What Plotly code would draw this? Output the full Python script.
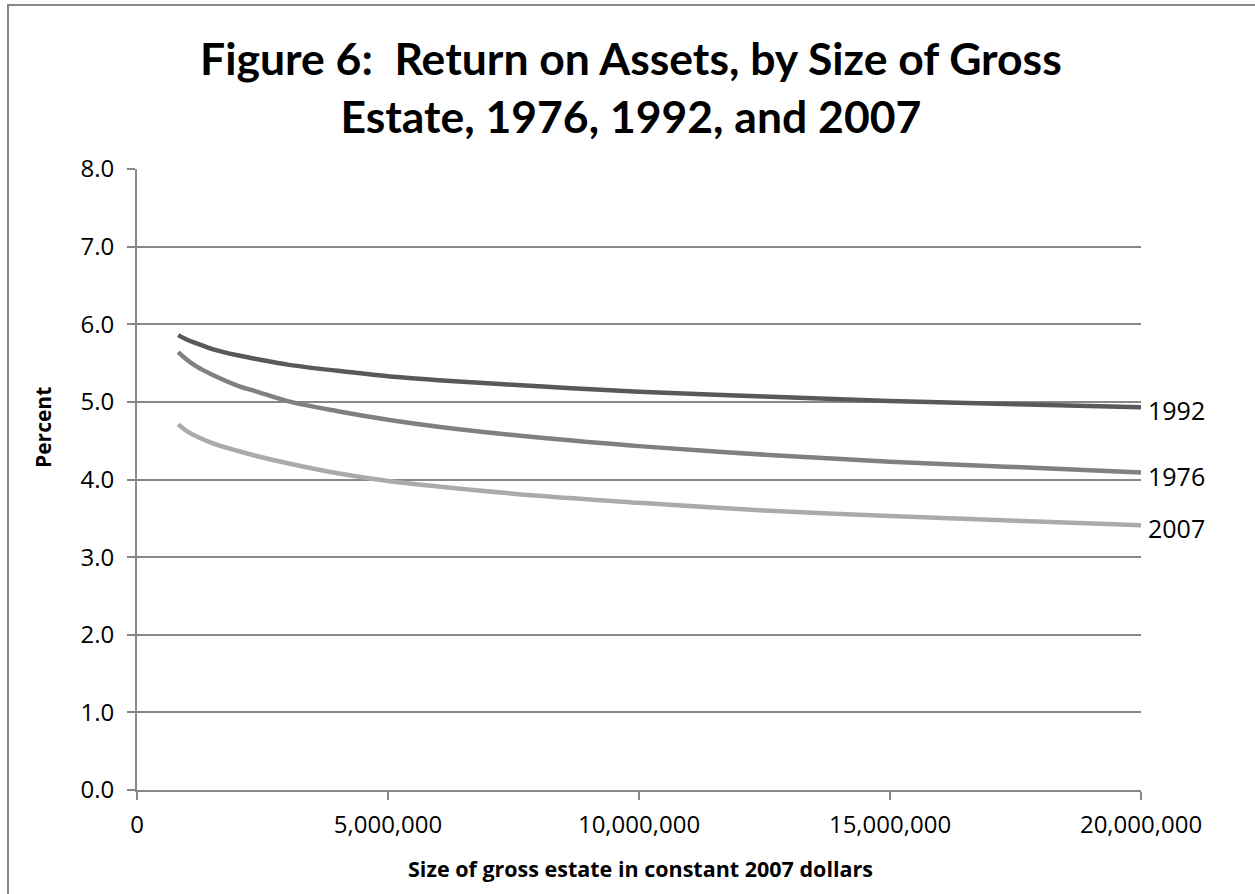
import plotly.graph_objects as go

# Data
estate_size = [820000, 1000000, 1200000, 1500000, 2000000, 2400000, 3000000, 4000000,
               5000000, 6000000, 8000000, 10000000, 12500000, 15000000, 17500000, 20000000]
roa_1992 = [5.86, 5.80, 5.75, 5.68, 5.60, 5.55, 5.48, 5.40, 5.33, 5.28, 5.20, 5.13,
            5.07, 5.01, 4.97, 4.93]
roa_1976 = [5.64, 5.54, 5.45, 5.35, 5.21, 5.13, 5.01, 4.88, 4.77, 4.68, 4.54, 4.43,
            4.32, 4.23, 4.16, 4.09]
roa_2007 = [4.71, 4.62, 4.55, 4.47, 4.37, 4.30, 4.21, 4.08, 3.98, 3.91, 3.79, 3.70,
            3.60, 3.53, 3.47, 3.41]
series_names = ["1992", "1976", "2007"]
x_ticks = [0, 5000000, 10000000, 15000000, 20000000]
y_ticks = [0, 1, 2, 3, 4, 5, 6, 7, 8]

W, H = 1255, 894
L, R, T, B = 137, 114, 169, 104
PW, PH = W - L - R, H - T - B

colors = {"1992": "#595959", "1976": "#808080", "2007": "#aaaaaa"}
series = {"1992": roa_1992, "1976": roa_1976, "2007": roa_2007}

fig = go.Figure()
for name in series_names:
    fig.add_trace(go.Scatter(
        x=estate_size, y=series[name], mode="lines", name=name,
        line=dict(color=colors[name], width=4.5, shape="spline", smoothing=1.0),
        showlegend=False, hoverinfo="skip"))
    fig.add_annotation(x=estate_size[-1], y=series[name][-1], text=name,
                       xanchor="left", yanchor="middle", xshift=5, yshift=-3,
                       showarrow=False,
                       font=dict(family="Open Sans", size=25, color="#000000"))

TICKFONT = dict(family="Open Sans", size=24, color="#000000")
GRID = "#888888"

fig.update_xaxes(range=[0, 20000000], tickvals=x_ticks, tickformat=",d",
                 showgrid=False, showline=True, linecolor=GRID, linewidth=2,
                 ticks="outside", ticklen=8, tickwidth=2, tickcolor=GRID,
                 ticklabelstandoff=4,
                 tickfont=TICKFONT, zeroline=False, fixedrange=True)
fig.update_yaxes(range=[0, 8], tickvals=y_ticks, tickformat=".1f",
                 showgrid=True, gridcolor=GRID, gridwidth=2,
                 showline=True, linecolor=GRID, linewidth=2,
                 ticks="outside", ticklen=8, tickwidth=2, tickcolor=GRID,
                 ticklabelstandoff=8,
                 tickfont=TICKFONT, zeroline=False, fixedrange=True)

def px_x(p):
    return (p - L) / PW

def px_y(p):
    return (H - B - p) / PH

# Outer frame (left and top edges)
fig.add_shape(type="line", xref="paper", yref="paper",
              x0=px_x(8), x1=px_x(8), y0=px_y(4), y1=px_y(900),
              line=dict(color="#888888", width=2))
fig.add_shape(type="line", xref="paper", yref="paper",
              x0=px_x(7), x1=px_x(1260), y0=px_y(5), y1=px_y(5),
              line=dict(color="#888888", width=2))

# Title
fig.add_annotation(xref="paper", yref="paper", x=px_x(631), y=px_y(86),
                   text="<b>Figure 6:  Return on Assets, by Size of Gross<br>Estate, 1976, 1992, and 2007</b>",
                   showarrow=False, xanchor="center", yanchor="middle",
                   font=dict(family="Lato", size=44.5, color="#000000"))

# Axis titles
fig.add_annotation(xref="paper", yref="paper", x=px_x(640), y=px_y(868),
                   text="<b>Size of gross estate in constant 2007 dollars</b>",
                   showarrow=False, xanchor="center", yanchor="middle",
                   font=dict(family="Open Sans", size=21.5, color="#000000"))
fig.add_annotation(xref="paper", yref="paper", x=px_x(43), y=px_y(428),
                   text="<b>Percent</b>", textangle=-90,
                   showarrow=False, xanchor="center", yanchor="middle",
                   font=dict(family="Open Sans", size=21, color="#000000"))

fig.update_layout(
    width=W, height=H,
    margin=dict(l=L, r=R, t=T, b=B),
    paper_bgcolor="white", plot_bgcolor="white",
)

fig.write_html("out.html", config={"displayModeBar": False},
               post_script="document.body.style.margin='0';document.body.style.padding='0';")
